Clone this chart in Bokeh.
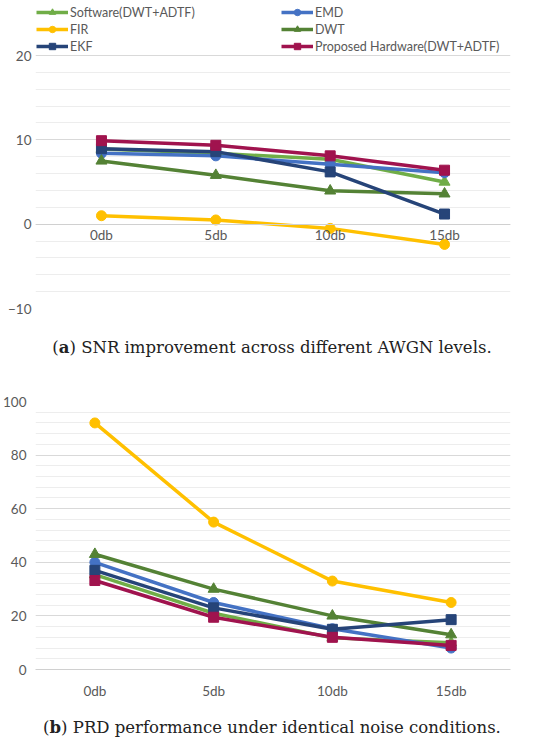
from bokeh.plotting import figure
from bokeh.models import (FactorRange, Range1d, SingleIntervalTicker, FixedTicker, Legend,
                          LegendItem, Div)
from bokeh.layouts import column
from bokeh.embed import file_html
from bokeh.resources import INLINE

categories = ["0db", "5db", "10db", "15db"]

series_names = ["Software(DWT+ADTF)", "EMD", "FIR", "DWT", "EKF", "Proposed Hardware(DWT+ADTF)"]

snr_software = [8.9, 8.4, 7.7, 5.0]
snr_emd = [8.4, 8.1, 7.1, 6.1]
snr_fir = [1.0, 0.5, -0.5, -2.4]
snr_dwt = [7.5, 5.8, 3.95, 3.6]
snr_ekf = [8.95, 8.6, 6.2, 1.2]
snr_proposed = [9.9, 9.35, 8.1, 6.4]
snr_major_ticks = [-10, 0, 10, 20]
snr_minor_ticks = [-8, -6, -4, -2, 2, 4, 6, 8, 12, 14, 16, 18]

prd_software = [35.4, 21.0, 11.8, 10.0]
prd_emd = [40.0, 25.0, 15.2, 8.0]
prd_fir = [92.0, 55.0, 33.0, 25.0]
prd_dwt = [43.0, 30.0, 20.0, 13.0]
prd_ekf = [37.0, 23.0, 15.0, 18.6]
prd_proposed = [33.2, 19.5, 12.0, 9.0]

colors = ["#70AD47", "#4472C4", "#FFC000", "#548235", "#264478", "#A0134E"]
markers = ["triangle", "circle", "circle", "triangle", "square", "square"]
msizes = [11, 10, 10, 11, 10, 10]

FONT = "Lato"
TICK_COLOR = "#595959"


def base_fig(height, y_range, ticker, top, bottom, left, right, pad):
    p = figure(width=534, height=height,
               x_range=FactorRange(*categories, range_padding=pad, range_padding_units="absolute"),
               y_range=y_range, output_backend="svg", toolbar_location=None,
               min_border_top=top, min_border_bottom=bottom, min_border_left=left,
               min_border_right=right)
    p.outline_line_color = None
    p.background_fill_color = "white"
    p.border_fill_color = "white"
    p.yaxis.ticker = ticker
    p.ygrid.ticker = ticker
    p.ygrid.grid_line_color = "#D9D9D9"
    p.ygrid.grid_line_width = 1
    p.ygrid.minor_grid_line_color = "#EDEDED"
    p.ygrid.minor_grid_line_width = 1
    p.xgrid.grid_line_color = None
    for ax in (p.xaxis, p.yaxis):
        ax.major_tick_line_color = None
        ax.minor_tick_line_color = None
        ax.major_tick_out = 0
        ax.minor_tick_out = 0
        ax.major_tick_in = 0
        ax.minor_tick_in = 0
        ax.major_label_text_font = FONT
        ax.major_label_text_font_size = "13.5px"
        ax.major_label_text_color = TICK_COLOR
    p.yaxis.axis_line_color = None
    p.xaxis.axis_line_color = "#D0D0D0"
    p.xaxis.axis_line_width = 1
    return p


def draw(p, data):
    items = []
    for name, vals, c, m, s in zip(series_names, data, colors, markers, msizes):
        ln = p.line(categories, vals, line_color=c, line_width=3.5)
        sc = p.scatter(categories, vals, marker=m, size=s, fill_color=c, line_color=c)
        items.append(LegendItem(label=name, renderers=[ln, sc]))
    return items


# ---- Chart (a): SNR ----
H1, TOP1, BOT1 = 330, 0, 22
FRAME1 = H1 - TOP1 - BOT1
PX_PER_UNIT = 253 / 30.0
ymax1 = 20 + 55 / PX_PER_UNIT
snr_ticker = FixedTicker(ticks=snr_major_ticks, minor_ticks=snr_minor_ticks)
p1 = base_fig(H1, Range1d(-10, ymax1), snr_ticker, TOP1, BOT1, 25, 22, 9 / 117.25)
items1 = draw(p1, [snr_software, snr_emd, snr_fir, snr_dwt, snr_ekf, snr_proposed])
p1.xaxis.fixed_location = 0
p1.xaxis.major_label_standoff = 3
p1.yaxis.major_label_standoff = 4

LEG_H = 50
legend = Legend(items=items1, orientation="horizontal", ncols=2,
                glyph_width=32, glyph_height=16, label_height=16, label_width=210,
                label_standoff=2, spacing=1, padding=0, margin=0,
                border_line_color=None, background_fill_alpha=0,
                label_text_font=FONT, label_text_font_size="12.5px",
                label_text_color=TICK_COLOR,
                location=(1, FRAME1 - 4 - LEG_H))
p1.add_layout(legend, "center")

cap_style = ("text-align:center; font-family:'DejaVu Serif'; font-size:16.5px; "
             "color:#222; width:534px;")
div1 = Div(text=f'<div style="{cap_style} line-height:25px;">(<b>a</b>) SNR improvement across different AWGN levels.</div>',
           width=534, height=25)

# ---- Chart (b): PRD ----
prd_ticker = SingleIntervalTicker(interval=20, num_minor_ticks=5)
p2 = base_fig(342, Range1d(0, 100), prd_ticker, 36, 38, 33, 24, 0)
draw(p2, [prd_software, prd_emd, prd_fir, prd_dwt, prd_ekf, prd_proposed])
p2.xaxis.major_label_standoff = 13
p2.yaxis.major_label_standoff = 9

div2 = Div(text=f'<div style="{cap_style} padding-top:6px; line-height:20px;">(<b>b</b>) PRD performance under identical noise conditions.</div>',
           width=534, height=30)

layout = column(p1, div1, p2, div2, spacing=0)
open("out.html", "w").write(file_html(layout, INLINE))
